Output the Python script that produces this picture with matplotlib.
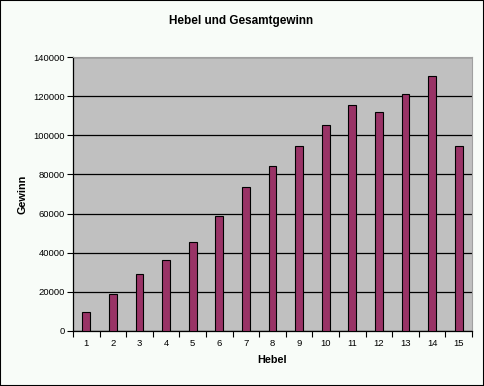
import numpy as np
import matplotlib
matplotlib.use("Agg")
import matplotlib.pyplot as plt

plt.rcParams['font.family'] = ['Liberation Sans', 'DejaVu Sans']

hebel = [1, 2, 3, 4, 5, 6, 7, 8, 9, 10, 11, 12, 13, 14, 15]
gewinn = [9700, 19000, 28900, 36500, 45400, 58800, 73600, 84100,
          94300, 105200, 115400, 111800, 121100, 130300, 94300]
yticks = [0, 20000, 40000, 60000, 80000, 100000, 120000, 140000]

fig = plt.figure(figsize=(4.84, 3.86), dpi=100, facecolor='#f8fcf8')
ax = fig.add_axes([73/484, 55/386, 399/484, 274/386])
ax.set_facecolor('#c0c0c0')

x = np.arange(len(hebel))
ax.bar(x, gewinn, width=0.3, color='#993366', edgecolor='black', linewidth=0.8, zorder=3)

ax.set_xlim(-0.5, len(hebel) - 0.5)
ax.set_ylim(0, 140000)
ax.set_yticks(yticks)
ax.set_yticklabels([str(v) for v in yticks], fontsize=6.8)
ax.yaxis.grid(True, color='black', linewidth=0.9, zorder=1)

# category labels in the middle, tick marks on the boundaries
ax.set_xticks(x)
ax.set_xticklabels([str(h) for h in hebel], fontsize=6.8)
ax.tick_params(axis='x', length=0, pad=6)
ax.set_xticks(np.arange(-0.5, len(hebel)), minor=True)
ax.tick_params(axis='x', which='minor', length=4, width=0.8, direction='out')
ax.tick_params(axis='y', length=4, width=0.8, direction='out', pad=2)

for s in ['top', 'right']:
    ax.spines[s].set_color('#a0a0a0')
    ax.spines[s].set_linewidth(0.8)
for s in ['left', 'bottom']:
    ax.spines[s].set_color('black')
    ax.spines[s].set_linewidth(0.9)

ax.set_xlabel('Hebel', fontsize=7.8, fontweight='bold', labelpad=5)
ax.set_ylabel('Gewinn', fontsize=7.8, fontweight='bold', labelpad=4)
fig.text(241/484, 1 - 21/386, 'Hebel und Gesamtgewinn', ha='center', va='center',
         fontsize=8.5, fontweight='bold')

# black frame around the whole picture
fig.patches.append(plt.Rectangle((0, 0), 1, 1, transform=fig.transFigure,
                                 fill=False, edgecolor='black', linewidth=1.5))

fig.savefig('out.png', dpi=100, facecolor=fig.get_facecolor())
